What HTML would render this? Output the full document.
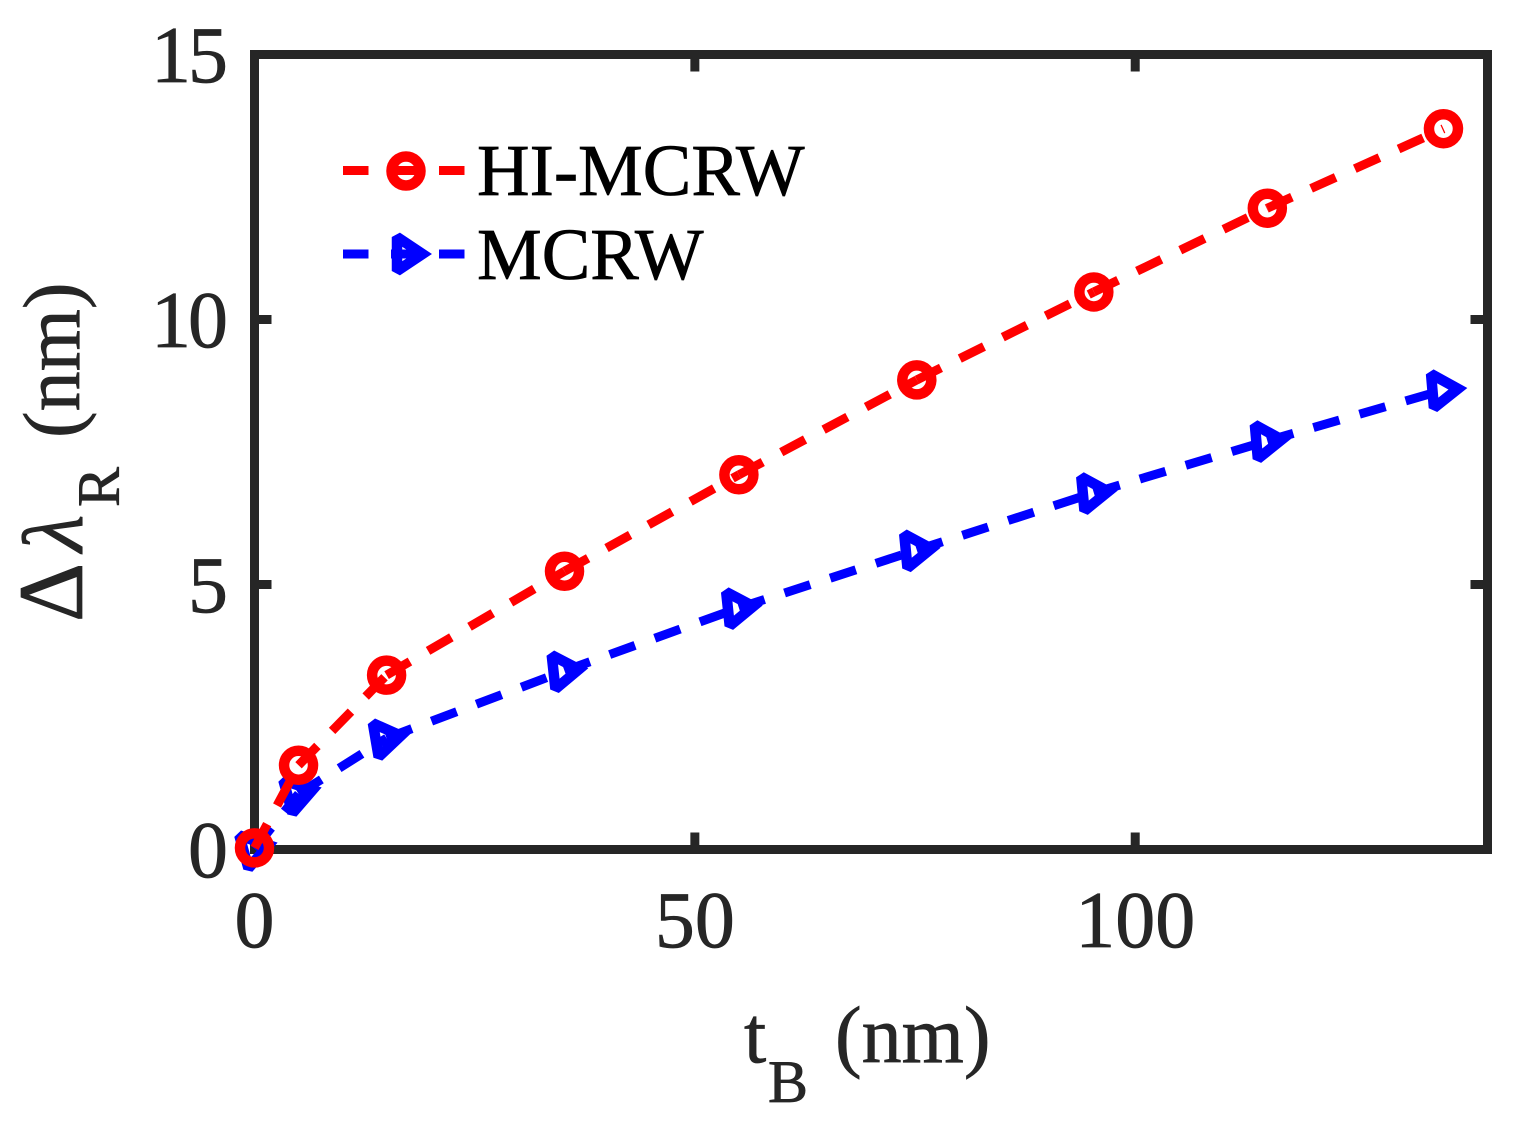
<!DOCTYPE html>
<html>
<head>
<meta charset="utf-8">
<title>Wavelength shift chart</title>
<style>
  html, body { margin: 0; padding: 0; background: #fff; }
  svg { display: block; }
  text { font-family: "Liberation Serif", "DejaVu Serif", serif; fill: #262626; stroke: #262626; stroke-width: 0.7px; }
  .legend-text { fill: #000; stroke: #000; }
</style>
</head>
<body>
<svg id="chart" xmlns="http://www.w3.org/2000/svg" width="1525" height="1133" viewBox="0 0 1525 1133">
  <rect x="0" y="0" width="1525" height="1133" fill="#fff"/>
  <g id="ticks"></g>
  <rect x="254.5" y="54.5" width="1233" height="795" fill="none" stroke="#262626" stroke-width="9"/>
  <g id="series-top"></g>
  <g id="tick-labels"></g>

  <g>
    <text x="744" y="1062" font-size="80">t</text>
    <text x="768" y="1102" font-size="60">B</text>
    <text x="835" y="1062" font-size="80">(nm)</text>
  </g>
  <g>
    <text transform="translate(82,622) rotate(-90)" font-size="92">Δ</text>
    <text transform="translate(82,552) rotate(-90)" font-size="86" font-style="italic">λ</text>
    <text transform="translate(119,507) rotate(-90)" font-size="60">R</text>
    <text transform="translate(79,438) rotate(-90)" font-size="80">(nm)</text>
  </g>

  <g id="legend">
    <text class="legend-text" x="477" y="195" font-size="72.8">HI-MCRW</text>
    <text class="legend-text" x="477" y="279" font-size="72.8">MCRW</text>
  </g>
</svg>
<script>
const xTicks = [0, 50, 100];
const yTicks = [0, 5, 10, 15];
const tB = [0, 5, 15, 35.2, 55, 75.2, 95.3, 115, 135];
const hiMcrw = [0.03, 1.59, 3.29, 5.25, 7.07, 8.86, 10.52, 12.1, 13.6];
const mcrw = [0.01, 1.05, 2.1, 3.37, 4.56, 5.65, 6.73, 7.71, 8.67];

const NS = 'http://www.w3.org/2000/svg';
const X0 = 254.5, X1 = 1487.5, Y0 = 849.5, Y1 = 54.5;
const xMax = 140, yMax = 15;
const DASH = '27 21';
const LINE_W = 9, MARK_W = 10.5;
const RED = '#ff0000', BLUE = '#0000ff', INK = '#262626';

function xs(v) { return X0 + (X1 - X0) * v / xMax; }
function ys(v) { return Y0 + (Y1 - Y0) * v / yMax; }
function mk(parent, tag, attrs) {
  const el = document.createElementNS(NS, tag);
  for (const k in attrs) el.setAttribute(k, attrs[k]);
  parent.appendChild(el);
  return el;
}

const tickG = document.getElementById('ticks');
const labelG = document.getElementById('tick-labels');
const seriesG = document.getElementById('series-top');
const legendG = document.getElementById('legend');

xTicks.forEach(function (t) {
  const x = xs(t);
  const a = mk(tickG, 'line', { x1: x, x2: x, y1: Y0, y2: Y0 - 17, stroke: INK, 'stroke-width': 9 });
  
  
  const b = mk(tickG, 'line', { x1: x, x2: x, y1: Y1, y2: Y1 + 17, stroke: INK, 'stroke-width': 9 });
  
  
  const l = mk(labelG, 'text', { x: x, y: 947, 'text-anchor': 'middle', 'font-size': 80 });
  l.textContent = String(t);
  
  
});

yTicks.forEach(function (t) {
  const y = ys(t);
  const a = mk(tickG, 'line', { x1: X0, x2: X0 + 17, y1: y, y2: y, stroke: INK, 'stroke-width': 9 });
  
  
  const b = mk(tickG, 'line', { x1: X1, x2: X1 - 17, y1: y, y2: y, stroke: INK, 'stroke-width': 9 });
  
  
  const l = mk(labelG, 'text', { x: 225, y: y + 27.5, 'text-anchor': 'end', 'font-size': 80, 'letter-spacing': -3 });
  l.textContent = String(t);
  
  
});

function circleMark(parent, cx, cy) {
  const c = mk(parent, 'circle', { cx: cx, cy: cy, r: 14.5, fill: 'none', stroke: RED, 'stroke-width': MARK_W });
  
  
}
function triMark(parent, cx, cy, deg) {
  const p = mk(parent, 'polygon', {
    points: '-11,-17 -11,17 14.5,0',
    transform: 'translate(' + cx + ',' + cy + ') rotate(' + deg + ')',
    fill: 'none', stroke: BLUE, 'stroke-width': MARK_W, 'stroke-linejoin': 'miter', 'stroke-miterlimit': 1.9
  });
  
  
}

// The dash pattern restarts at every vertex, so each segment is its own line.
function drawSegments(vals, color) {
  for (let i = 1; i < vals.length; i++) {
    const s = mk(seriesG, 'line', {
      x1: xs(tB[i - 1]), y1: ys(vals[i - 1]), x2: xs(tB[i]), y2: ys(vals[i]),
      stroke: color, 'stroke-width': LINE_W, 'stroke-dasharray': DASH
    });
    
    
  }
}

drawSegments(mcrw, BLUE);
mcrw.forEach(function (v, i) {
  const j = Math.max(i, 1);
  const slope = Math.atan2(ys(mcrw[j]) - ys(mcrw[j - 1]), xs(tB[j]) - xs(tB[j - 1])) * 180 / Math.PI;
  triMark(seriesG, xs(tB[i]), ys(v), slope * 0.3);
});

drawSegments(hiMcrw, RED);
hiMcrw.forEach(function (v, i) {
  circleMark(seriesG, xs(tB[i]), ys(v));
});

const legRed = mk(legendG, 'line', { x1: 343, x2: 466, y1: 170.5, y2: 170.5, stroke: RED, 'stroke-width': LINE_W, 'stroke-dasharray': '25.5 22.5' });


circleMark(legendG, 406, 171);

const legBlue = mk(legendG, 'line', { x1: 343, x2: 466, y1: 254, y2: 254, stroke: BLUE, 'stroke-width': LINE_W, 'stroke-dasharray': '25.5 22.5' });


triMark(legendG, 408, 254, 0);
</script>
</body>
</html>
